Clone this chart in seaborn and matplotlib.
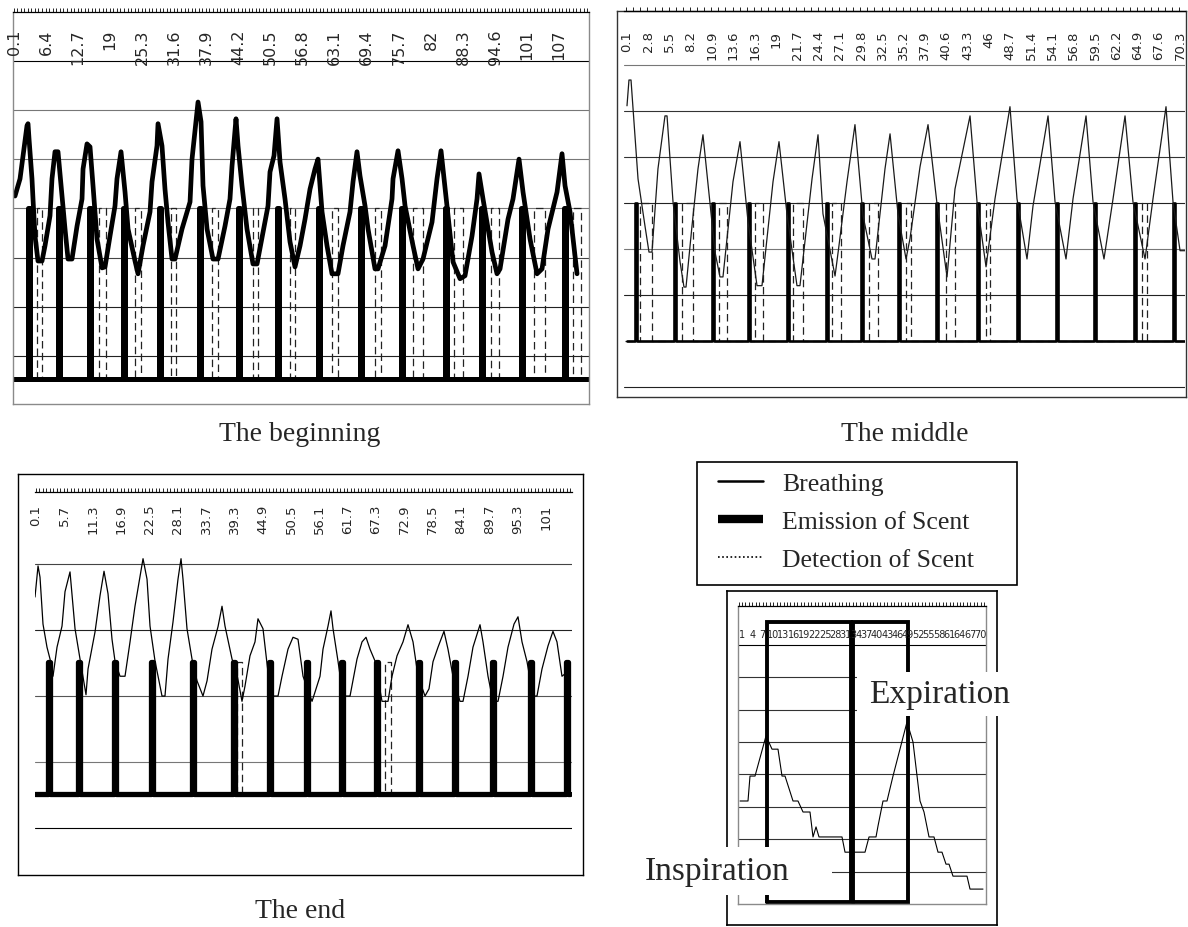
import matplotlib

matplotlib.use("Agg")
import matplotlib.pyplot as plt
import seaborn as sns
from matplotlib.lines import Line2D
from matplotlib.patches import Rectangle
from matplotlib.ticker import MultipleLocator, NullLocator

FIG_W, FIG_H = 1188, 928
SERIF = ["Liberation Serif", "DejaVu Serif"]
SANS = ["DejaVu Sans"]

# ---------------- The beginning ----------------
BEGIN_TICKS = [0.1, 6.4, 12.7, 19.0, 25.3, 31.6, 37.9, 44.2, 50.5, 56.8, 63.1, 69.4,
               75.7, 82.0, 88.3, 94.6, 100.9, 107.2]
BEGIN_LABELS = ["0.1", "6.4", "12.7", "19", "25.3", "31.6", "37.9", "44.2", "50.5",
                "56.8", "63.1", "69.4", "75.7", "82", "88.3", "94.6", "101", "107"]
BEGIN_BREATH_T = [0.29, 1.28, 1.87, 2.65, 2.85, 3.05, 3.63, 3.83, 4.22, 4.81, 5.60, 6.19,
                  7.17, 7.56, 8.15, 8.74, 9.53, 10.12, 10.71, 11.49, 12.48, 13.46, 13.66,
                  14.44, 15.03, 15.62, 16.40, 17.39, 17.98, 18.96, 19.94, 20.33, 21.12,
                  21.91, 22.50, 23.87, 24.46, 25.44, 26.82, 27.21, 28.19, 28.39, 29.17,
                  29.76, 30.35, 31.14, 31.73, 33.10, 34.68, 35.07, 35.85, 36.25, 36.84,
                  37.23, 38.02, 39.19, 40.18, 41.55, 42.53, 42.93, 43.71, 44.11, 44.89,
                  45.87, 47.05, 47.84, 49.02, 50.00, 50.39, 51.18, 51.77, 52.36, 53.34,
                  54.32, 55.30, 56.29, 57.27, 58.25, 59.23, 59.82, 60.22, 60.61, 61.59,
                  62.57, 63.75, 64.73, 66.11, 66.70, 67.48, 68.07, 69.06, 69.65, 71.02,
                  71.61, 72.99, 74.36, 74.56, 75.54, 76.33, 76.92, 78.49, 79.47, 80.45,
                  82.22, 83.20, 83.99, 84.58, 85.17, 86.35, 87.72, 88.70, 90.08, 91.06,
                  91.45, 92.24, 94.01, 94.99, 95.58, 97.15, 98.13, 98.92, 99.31, 100.10,
                  101.47, 102.85, 103.83, 105.01, 106.78, 107.76, 108.35, 109.33, 110.71]
BEGIN_BREATH_Y = [4.25, 4.60, 5.07, 5.68, 5.72, 5.41, 4.60, 4.19, 3.44, 2.93, 2.93, 3.24,
                  3.85, 4.60, 5.15, 5.15, 4.25, 3.58, 2.97, 2.97, 3.64, 4.19, 4.80,
                  5.31, 5.25, 4.46, 3.38, 2.79, 2.81, 3.44, 4.05, 4.60, 5.15,
                  4.33, 3.58, 2.93, 2.67, 3.24, 3.93, 4.54, 5.27, 5.72, 5.27,
                  4.39, 3.72, 2.97, 2.97, 3.58, 4.13, 5.00, 5.76, 6.16, 5.76,
                  4.46, 3.58, 2.97, 2.97, 3.64, 4.19, 4.86, 5.82, 5.27, 4.46,
                  3.58, 2.87, 2.87, 3.52, 4.05, 4.74, 5.07, 5.82, 4.94, 4.19,
                  3.32, 2.81, 3.24, 3.78, 4.39, 4.80, 5.00, 4.46, 3.93, 3.24,
                  2.67, 2.67, 3.24, 3.93, 4.54, 5.15, 4.66, 4.05, 3.58, 2.77,
                  2.77, 3.24, 4.19, 4.60, 5.17, 4.60, 4.05, 3.24, 2.77, 2.97,
                  3.72, 4.60, 5.17, 4.60, 4.05, 2.91, 2.57, 2.63, 3.44, 4.19,
                  4.70, 4.19, 3.11, 2.67, 2.77, 3.78, 4.19, 4.74, 5.00, 4.33,
                  3.38, 2.67, 2.77, 3.58, 4.33, 5.11, 4.46, 3.93, 2.67]
BEGIN_EMIT_T = [3.05, 8.94, 15.03, 21.71, 28.78, 36.64, 44.30, 51.96, 60.02, 68.27,
                76.33, 84.97, 92.04, 99.90, 108.35]
BEGIN_DETECT_START = [4.62, 16.80, 23.87, 30.94, 39.00, 47.05, 54.32, 62.57, 71.02,
                      78.49, 86.54, 93.81, 102.26, 109.92]
BEGIN_DETECT_END = [5.60, 18.17, 25.05, 31.93, 40.18, 48.04, 55.30, 63.75, 72.20,
                    80.45, 88.31, 95.38, 104.42, 111.49]
BEGIN_OFF, BEGIN_ON = 0.53, 4.0

# ---------------- The middle ----------------
MID_TICKS = [0.1, 2.8, 5.5, 8.2, 10.9, 13.6, 16.3, 19.0, 21.7, 24.4, 27.1, 29.8, 32.5,
             35.2, 37.9, 40.6, 43.3, 46.0, 48.7, 51.4, 54.1, 56.8, 59.5, 62.2, 64.9,
             67.6, 70.3]
MID_LABELS = ["0.1", "2.8", "5.5", "8.2", "10.9", "13.6", "16.3", "19", "21.7", "24.4",
              "27.1", "29.8", "32.5", "35.2", "37.9", "40.6", "43.3", "46", "48.7",
              "51.4", "54.1", "56.8", "59.5", "62.2", "64.9", "67.6", "70.3"]
MID_BREATH_T = [0.10, 0.35, 0.61, 1.50, 2.38, 2.89, 3.27, 4.03, 4.92, 5.18, 5.94, 6.83,
                7.33, 7.59, 8.35, 9.11, 9.74, 10.38, 11.27, 11.90, 12.28, 13.55, 14.44,
                15.46, 16.60, 17.23, 18.63, 19.39, 20.40, 21.67, 22.05, 23.58, 24.34,
                24.97, 26.50, 27.00, 28.02, 29.03, 30.05, 31.19, 31.57, 32.84, 33.48,
                34.49, 35.51, 36.01, 37.28, 38.30, 39.44, 40.71, 41.72, 43.63, 44.52,
                45.66, 46.80, 48.70, 49.59, 50.86, 51.62, 53.53, 54.42, 55.81, 56.70,
                58.35, 59.24, 60.63, 61.78, 63.30, 64.31, 65.84, 66.85, 68.50, 69.39,
                70.28, 70.91]
MID_BREATH_Y = [5.11, 5.67, 5.67, 3.52, 2.50, 1.93, 1.93, 3.74, 4.89, 4.89, 3.02, 1.72,
                1.17, 1.17, 2.50, 3.74, 4.48, 3.41, 1.93, 1.39, 1.39, 3.46, 4.33,
                2.59, 1.20, 1.20, 3.46, 4.33, 2.76, 1.20, 1.20, 3.52, 4.48,
                2.76, 1.41, 2.07, 3.46, 4.70, 2.72, 1.78, 1.78, 3.74, 4.50,
                2.76, 1.78, 2.22, 3.78, 4.70, 2.98, 1.39, 3.30, 4.89, 3.02,
                1.61, 3.09, 5.09, 3.09, 1.78, 2.93, 4.89, 3.02, 1.78, 3.09,
                4.89, 3.02, 1.78, 3.09, 4.89, 3.02, 1.78, 3.09, 5.09, 3.02,
                1.96, 1.96]
MID_EMIT_T = [1.24, 6.19, 11.01, 15.58, 20.53, 25.48, 29.92, 34.62, 39.44, 44.64, 49.72,
              54.67, 59.49, 64.57, 69.52]
MID_DETECT_START = [1.75, 7.08, 11.78, 16.34, 21.17, 26.12, 30.81, 35.51, 40.58, 45.66,
                    65.46]
MID_DETECT_END = [3.27, 8.48, 12.79, 17.36, 22.44, 27.26, 31.95, 36.14, 41.72, 46.17,
                  66.09]
MID_OFF, MID_ON = 0.0, 3.0

# ---------------- The end ----------------
END_TICKS = [0.1, 5.7, 11.3, 16.9, 22.5, 28.1, 33.7, 39.3, 44.9, 50.5, 56.1, 61.7, 67.3,
             72.9, 78.5, 84.1, 89.7, 95.3, 100.9]
END_LABELS = ["0.1", "5.7", "11.3", "16.9", "22.5", "28.1", "33.7", "39.3", "44.9",
              "50.5", "56.1", "61.7", "67.3", "72.9", "78.5", "84.1", "89.7", "95.3", "101"]
END_BREATH_T = [-0.10, 0.50, 0.89, 1.48, 2.27, 2.87, 3.46, 4.25, 5.24, 5.83, 6.82, 7.81,
                8.80, 9.98, 10.38, 11.76, 12.75, 13.54, 14.33, 15.12, 15.71, 16.70,
                17.69, 18.68, 19.66, 21.25, 22.04, 22.63, 23.62, 25.00, 25.59, 26.19,
                27.17, 28.16, 28.76, 29.15, 29.94, 30.93, 31.92, 33.10, 33.90, 34.88,
                36.07, 36.86, 37.45, 38.84, 39.82, 40.81, 41.40, 42.39, 43.38, 43.97,
                44.96, 45.95, 46.94, 47.93, 48.72, 49.90, 50.89, 51.88, 52.87, 54.65,
                55.24, 56.23, 56.82, 57.81, 58.40, 58.80, 59.78, 60.77, 62.16, 63.54,
                64.53, 65.32, 66.11, 67.10, 68.48, 69.67, 70.46, 71.45, 72.63, 73.62,
                74.61, 75.60, 76.98, 77.77, 78.56, 79.55, 80.73, 81.52, 82.51, 83.89,
                84.49, 85.48, 86.46, 87.85, 88.44, 89.43, 90.42, 91.41, 92.40, 93.38,
                94.57, 95.36, 96.15, 97.14, 98.32, 99.11, 100.10, 101.29, 102.27,
                103.06, 104.05, 105.04]
END_BREATH_Y = [3.50, 3.97, 3.80, 3.09, 2.74, 2.56, 2.30, 2.74, 3.06, 3.58, 3.88, 3.02,
                2.56, 2.02, 2.41, 2.97, 3.52, 3.89, 3.55, 2.86, 2.53, 2.30,
                2.30, 2.82, 3.36, 4.08, 3.77, 3.06, 2.53, 2.00, 2.00, 2.56,
                3.12, 3.77, 4.08, 3.77, 3.02, 2.56, 2.23, 2.00, 2.23, 2.71,
                3.05, 3.36, 3.06, 2.56, 2.33, 1.92, 2.15, 2.61, 2.82, 3.17,
                3.02, 2.36, 2.00, 2.00, 2.30, 2.71, 2.89, 2.86, 2.30, 1.92,
                2.06, 2.30, 2.71, 3.06, 3.29, 3.02, 2.53, 2.00, 2.00, 2.56,
                2.82, 2.89, 2.71, 2.53, 1.92, 1.92, 2.30, 2.61, 2.82, 3.08,
                2.82, 2.30, 2.00, 2.11, 2.52, 2.74, 2.98, 2.71, 2.30, 1.92,
                1.92, 2.30, 2.74, 3.08, 2.82, 2.30, 1.92, 1.92, 2.30, 2.74,
                3.09, 3.20, 2.82, 2.52, 2.00, 2.00, 2.41, 2.76, 2.98,
                2.82, 2.30, 2.36]
END_EMIT_T = [2.67, 8.60, 15.71, 23.02, 31.13, 39.23, 46.35, 53.66, 60.57, 67.49, 75.79,
              82.91, 90.42, 97.93, 105.04]
END_DETECT_START = [39.82, 69.08]
END_DETECT_END = [40.81, 70.26]
END_OFF, END_ON = 0.52, 2.52

# ---------------- Inset (one breath) ----------------
INSET_TICKS = [1, 4, 7, 10, 13, 16, 19, 22, 25, 28, 31, 34, 37, 40, 43, 46, 49, 52, 55,
               58, 61, 64, 67, 70]
INSET_BREATH_T = [0.42, 2.73, 3.31, 4.76, 7.94, 9.67, 11.40, 12.56, 13.43, 15.74, 17.18,
                  18.63, 20.65, 21.52, 22.39, 23.25, 29.90, 30.77, 36.55, 37.71, 39.73,
                  40.31, 41.75, 42.91, 44.64, 48.69, 50.42, 52.45, 53.60, 55.05, 56.49,
                  57.65, 58.80, 59.96, 60.83, 61.98, 66.03, 66.90, 70.65]
INSET_BREATH_Y = [3.18, 3.18, 3.95, 3.95, 5.19, 4.78, 4.78, 3.95, 3.95, 3.18, 3.18,
                  2.84, 2.84, 2.07, 2.38, 2.07, 2.07, 1.60, 1.60, 2.07, 2.07,
                  2.41, 3.18, 3.18, 3.95, 5.62, 5.00, 3.18, 2.84, 2.07, 2.07,
                  1.60, 1.60, 1.23, 1.23, 0.86, 0.86, 0.46, 0.46]
INSET_PHASE_START = [8.2, 33.1]
INSET_PHASE_END = [32.5, 49.0]
INSET_LOW, INSET_HIGH = 0.06, 8.7

LEGEND_LABELS = ["Breathing", "Emission of Scent", "Detection of Scent"]
CAPTIONS = ["The beginning", "The middle", "The end"]
PHASE_LABELS = ["Expiration", "Inspiration"]


def px_axes(fig, x0, y0, x1, y1):
    # axes from a pixel box (top-left origin)
    return fig.add_axes([x0 / FIG_W, 1 - y1 / FIG_H, (x1 - x0) / FIG_W, (y1 - y0) / FIG_H])


def frame_box(fig, x0, y0, x1, y1, color, lw):
    ax = px_axes(fig, x0, y0, x1, y1)
    ax.set_xticks([])
    ax.set_yticks([])
    for s in ax.spines.values():
        s.set_color(color)
        s.set_linewidth(lw)
    return ax


def pulses(starts, ends, off, on, t0, t1):
    t, y = [t0], [off]
    for a, b in zip(starts, ends):
        t += [a, a, b, b]
        y += [off, on, on, off]
    t.append(t1)
    y.append(off)
    return t, y


def setup_panel(ax, xlim, ylim, minor_step, ticks, labels, drop, fontsize, rotation=90):
    ax.set_xlim(*xlim)
    ax.set_ylim(*ylim)
    ax.set_facecolor("none")
    ax.grid(False)
    ax.xaxis.set_major_locator(NullLocator())
    ax.xaxis.set_minor_locator(MultipleLocator(minor_step))
    ax.yaxis.set_major_locator(NullLocator())
    ax.tick_params(axis="x", which="minor", top=True, bottom=False, direction="out",
                   length=3, width=0.6, color="black")
    ax.spines["top"].set_color("black")
    ax.spines["top"].set_linewidth(0.9)
    for t, lab in zip(ticks, labels):
        ax.annotate(lab, xy=(t, 1), xycoords=("data", "axes fraction"),
                    xytext=(0, -drop), textcoords="offset points", rotation=rotation,
                    ha="center", va="top", fontsize=fontsize, family=SANS)


def grid(ax, levels, colors):
    for lvl, col in zip(levels, colors):
        ax.axhline(lvl, color=col, lw=0.8, zorder=1)


def line(ax, t, y, **kw):
    sns.lineplot(x=t, y=y, sort=False, estimator=None, ax=ax, **kw)


sns.set_theme(style="white")
plt.rcParams["font.family"] = ["DejaVu Sans"]

fig = plt.figure(figsize=(FIG_W / 100, FIG_H / 100), dpi=100)

DASH = (0, (6, 3.5))

# ---- The beginning ----
ax1 = px_axes(fig, 13, 13, 589, 405)
setup_panel(ax1, (-0.1, 113.06), (0.024, 7.99), 0.7, BEGIN_TICKS, BEGIN_LABELS, 12.0, 11.5)
for side in ["left", "right", "bottom"]:
    ax1.spines[side].set_color("#8a8a8a")
    ax1.spines[side].set_linewidth(1.0)
grid(ax1, [1, 2, 3, 4, 5, 6, 7], ["#222", "#222", "#444", "#777", "#777", "#777", "black"])
t, y = pulses(BEGIN_DETECT_START, BEGIN_DETECT_END, BEGIN_OFF, BEGIN_ON, -0.1, 113.06)
line(ax1, t, y, color="#222", linewidth=0.9, linestyle=DASH)
starts = [c - 0.15 for c in BEGIN_EMIT_T]
ends = [c + 0.15 for c in BEGIN_EMIT_T]
t, y = pulses(starts, ends, BEGIN_OFF, BEGIN_ON, -0.1, 113.06)
line(ax1, t, y, color="black", linewidth=3.6)
line(ax1, BEGIN_BREATH_T, BEGIN_BREATH_Y, color="black", linewidth=3.4)
ax1.set_xlabel("")
ax1.set_ylabel("")

# ---- The middle ----
frame_box(fig, 617, 12, 1186, 398, "#333", 1.0)
ax2 = px_axes(fig, 624, 12, 1185, 398)
setup_panel(ax2, (-0.28, 70.91), (-1.22, 7.17), 0.9, MID_TICKS, MID_LABELS, 13.5, 9.5)
for side in ["left", "right", "bottom"]:
    ax2.spines[side].set_visible(False)
grid(ax2, [-1, 1, 2, 3, 4, 5, 6], ["#222", "#222", "#777", "#222", "#333", "#333", "#777"])
t, y = pulses(MID_DETECT_START, MID_DETECT_END, MID_OFF, MID_ON, -0.1, 70.91)
line(ax2, t, y, color="#222", linewidth=0.9, linestyle=DASH)
starts = [c - 0.1 for c in MID_EMIT_T]
ends = [c + 0.1 for c in MID_EMIT_T]
t, y = pulses(starts, ends, MID_OFF, MID_ON, 0.15, 70.91)
line(ax2, t, y, color="black", linewidth=1.9)
line(ax2, MID_BREATH_T, MID_BREATH_Y, color="#1a1a1a", linewidth=0.9)
ax2.set_xlabel("")
ax2.set_ylabel("")

# ---- The end ----
frame_box(fig, 18, 475, 583, 876, "black", 1.0)
ax3 = px_axes(fig, 35, 493, 572, 876)
setup_panel(ax3, (-0.10, 106.03), (-0.71, 5.09), 0.7, END_TICKS, END_LABELS, 8.5, 9.5)
for side in ["left", "right", "bottom"]:
    ax3.spines[side].set_visible(False)
grid(ax3, [0, 1, 2, 3, 4], ["black", "#777", "#555", "#222", "#444"])
t, y = pulses(END_DETECT_START, END_DETECT_END, END_OFF, END_ON, -0.1, 105.6)
line(ax3, t, y, color="#222", linewidth=0.9, linestyle=DASH)
starts = [c - 0.15 for c in END_EMIT_T]
ends = [c + 0.15 for c in END_EMIT_T]
t, y = pulses(starts, ends, END_OFF, END_ON, -0.1, 105.6)
line(ax3, t, y, color="black", linewidth=3.8, solid_joinstyle="round")
line(ax3, END_BREATH_T, END_BREATH_Y, color="black", linewidth=0.9)
ax3.set_xlabel("")
ax3.set_ylabel("")

# ---- Inset ----
frame_box(fig, 727, 592, 997, 926, "black", 1.2)
ax4 = px_axes(fig, 738, 607, 986, 905)
setup_panel(ax4, (-0.16, 71.52), (0, 9.2), 1, INSET_TICKS, [str(v) for v in INSET_TICKS],
            16.5, 7, rotation=0)
for side in ["left", "right", "bottom"]:
    ax4.spines[side].set_color("#8a8a8a")
    ax4.spines[side].set_linewidth(1.0)
grid(ax4, [1, 2, 3, 4, 5, 6, 7, 8], ["#333"] * 7 + ["black"])
line(ax4, INSET_BREATH_T, INSET_BREATH_Y, color="black", linewidth=0.8)
for a, b in zip(INSET_PHASE_START, INSET_PHASE_END):
    line(ax4, [a, a, b, b, a], [INSET_LOW, INSET_HIGH, INSET_HIGH, INSET_LOW, INSET_LOW],
         color="black", linewidth=2.8, solid_joinstyle="miter")
ax4.set_xlabel("")
ax4.set_ylabel("")

# phase labels with white backing
for (x0, y0, x1, y1), (tx, ty), lab in zip(
        [(857, 673, 1013, 717), (643, 848, 832, 896)], [(869, 695), (645, 872)],
        PHASE_LABELS):
    fig.add_artist(Rectangle((x0 / FIG_W, 1 - y1 / FIG_H), (x1 - x0) / FIG_W,
                             (y1 - y0) / FIG_H, transform=fig.transFigure,
                             facecolor="white", edgecolor="none", zorder=5))
    fig.text(tx / FIG_W, 1 - ty / FIG_H, lab, ha="left", va="center", fontsize=24,
             family=SERIF, zorder=6)

# captions
for (cx, cy), cap in zip([(300, 435), (905, 435), (300, 912)], CAPTIONS):
    fig.text(cx / FIG_W, 1 - cy / FIG_H, cap, ha="center", va="center", fontsize=20,
             family=SERIF)

# legend: box drawn on its own, entries placed inside it
fig.add_artist(Rectangle((697 / FIG_W, 1 - 586 / FIG_H), 320 / FIG_W, 123 / FIG_H,
                         transform=fig.transFigure, facecolor="white",
                         edgecolor="black", lw=1.2, zorder=4))
handles = [
    Line2D([0], [0], color="black", lw=1.8),
    Line2D([0], [0], color="black", lw=6, solid_capstyle="butt"),
    Line2D([0], [0], color="black", lw=1.2, linestyle=(0, (1, 1.5))),
]
leg = fig.legend(handles, LEGEND_LABELS, loc="upper left",
                 bbox_to_anchor=(718 / FIG_W, 1 - 473 / FIG_H),
                 bbox_transform=fig.transFigure, frameon=False,
                 prop={"family": SERIF, "size": 18.5}, handlelength=1.75,
                 handletextpad=0.75, borderpad=0, labelspacing=0.58, borderaxespad=0)
leg.set_zorder(6)

fig.savefig("out.png", dpi=100)
